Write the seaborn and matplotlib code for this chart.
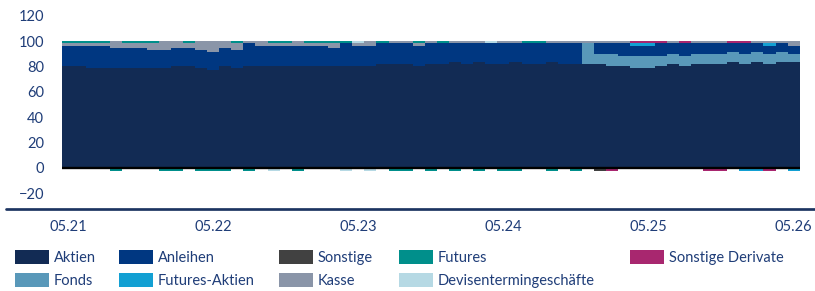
import numpy as np
import matplotlib
matplotlib.use("Agg")
import matplotlib.pyplot as plt
import matplotlib.patches as mpatches
from matplotlib.lines import Line2D
import seaborn as sns

# ---------------- data (monthly, 05.21 .. 05.26) ----------------
months = [f"{y}-{m:02d}" for y in range(2021, 2027) for m in range(1, 13)
          if (y, m) >= (2021, 5) and (y, m) <= (2026, 5)]
tick_labels = ["05.21", "05.22", "05.23", "05.24", "05.25", "05.26"]

aktien = [80.5, 80.5, 78.7, 78.7, 78.7, 78.7, 78.7, 78.7, 78.7, 80.5,
          80.5, 78.7, 77.4, 80.5, 78.7, 80.5, 80.5, 80.5, 80.5, 80.5,
          80.5, 80.5, 80.5, 80.5, 80.5, 80.5, 82.1, 82.1, 82.1, 80.5,
          82.1, 82.1, 83.7, 82.1, 83.7, 82.1, 82.1, 83.7, 82.1, 82.1,
          83.7, 82.1, 82.1, 82.1, 82.1, 80.5, 80.5, 78.9, 78.9, 80.5,
          82.1, 80.5, 82.1, 82.1, 82.1, 83.7, 82.1, 83.7, 82.1, 83.7,
          83.7]
fonds = [0, 0, 0, 0, 0, 0, 0, 0, 0, 0,
         0, 0, 0, 0, 0, 0, 0, 0, 0, 0,
         0, 0, 0, 0, 0, 0, 0, 0, 0, 0,
         0, 0, 0, 0, 0, 0, 0, 0, 0, 0,
         0, 0, 0, 16.3, 7.9, 9.5, 7.9, 9.5, 9.5, 7.9,
         7.9, 7.9, 7.9, 7.9, 7.9, 7.9, 7.9, 7.9, 7.9, 7.9,
         6.1]
anleihen = [15.8, 15.8, 17.6, 17.6, 16.0, 16.0, 16.0, 14.2, 14.2, 14.2,
            14.2, 14.2, 13.9, 14.2, 14.2, 18.2, 15.8, 15.8, 15.8, 15.8,
            15.8, 15.8, 14.2, 18.2, 15.8, 15.8, 16.6, 16.6, 16.6, 15.8,
            16.6, 16.6, 15.0, 16.6, 15.0, 16.6, 16.6, 15.0, 16.6, 16.6,
            15.0, 16.6, 16.6, 0.0, 8.4, 8.4, 10.0, 7.9, 7.9, 10.0,
            8.4, 10.0, 8.4, 8.4, 8.4, 6.8, 8.4, 6.8, 6.3, 6.8,
            6.5]
futures_aktien = [0, 0, 0, 0, 0, 0, 0, 0, 0, 0,
                  0, 0, 0, 0, 0, 0, 0, 0, 0, 0,
                  0, 0, 0, 0, 0, 0, 0, 0, 0, 0,
                  0, 0, 0, 0, 0, 0, 0, 0, 0, 0,
                  0, 0, 0, 0, 0, 0, 0, 2.1, 2.1, 0,
                  0, 0, 0, 0, 0, 0, -2.4, -2.4, 2.1, 0,
                  -2.4]
kasse = [2.4, 2.4, 2.4, 2.4, 5.3, 4.0, 4.0, 5.8, 7.1, 5.3,
         4.0, 7.1, 8.7, 5.3, 5.8, 1.3, 3.7, 2.4, 2.4, 3.7,
         2.4, 2.4, 4.0, 0.0, 2.4, 3.7, 0.0, 1.3, 1.3, 2.4,
         1.3, 0.0, 1.3, 1.3, 1.3, 0.0, 1.3, 1.3, 0.0, 0.0,
         1.3, 1.3, 1.3, 1.6, 1.6, 1.6, 1.6, 0.0, 0.0, 0.0,
         1.6, 0.0, 1.6, 1.6, 1.6, 0.0, 0.0, 1.6, 1.6, 1.6,
         3.7]
sonstige = [0, 0, 0, 0, 0, 0, 0, 0, 0, 0,
            0, 0, 0, 0, 0, 0, 0, 0, 0, 0,
            0, 0, 0, 0, 0, 0, 0, 0, 0, 0,
            0, 0, 0, 0, 0, 0, 0, 0, 0, 0,
            0, 0, 0, 0, -2.4, 0, 0, 0, 0, 0,
            0, 0, 0, 0, 0, 0, 0, 0, 0, 0,
            0]
devisen = [0, 0, 0, 0, 0, 0, 0, 0, 0, 0,
           0, 0, 0, 0, 0, 0, 0, -2.4, 0, 0,
           0, 0, 0, -2.4, 1.3, -2.4, 0, 0, 0, 0,
           0, 0, 0, 0, 0, 1.3, 0, 0, 0, 0,
           0, 0, 0, 0, 0, 0, 0, 0, 0, 0,
           0, 0, 0, 0, 0, 0, 0, 0, 0, 0,
           0]
futures = [1.3, 1.3, 1.3, 1.3, -2.4, 1.3, 1.3, 1.3, -2.4, -2.4,
           1.3, -2.4, -2.4, -2.4, 1.3, -2.4, 0, 1.3, 1.3, -2.4,
           1.3, 1.3, 1.3, 1.3, 0, 0, 1.3, -2.4, -2.4, 1.3,
           -2.4, 1.3, -2.4, 0, -2.4, 0, -2.4, -2.4, 1.3, 1.3,
           -2.4, 0, -2.4, 0, 0, 0, 0, 0, 0, 0,
           0, 0, 0, 0, 0, 0, 0, 0, 0, 0,
           0]
sonst_derivate = [0, 0, 0, 0, 0, 0, 0, 0, 0, 0,
                  0, 0, 0, 0, 0, 0, 0, 0, 0, 0,
                  0, 0, 0, 0, 0, 0, 0, 0, 0, 0,
                  0, 0, 0, 0, 0, 0, 0, 0, 0, 0,
                  0, 0, 0, 0, 0, -2.4, 0, 1.6, 1.6, 1.6,
                  0, 1.6, 0, -2.4, -2.4, 1.6, 1.6, 0, -2.4, 0,
                  0]

# stacking order (bottom -> top)
stack = [
    ("Aktien", aktien, "#122b54"),
    ("Fonds", fonds, "#5998b9"),
    ("Anleihen", anleihen, "#003781"),
    ("Futures-Aktien", futures_aktien, "#13a0d3"),
    ("Kasse", kasse, "#8a95a8"),
    ("Sonstige", sonstige, "#414141"),
    ("Devisentermingeschäfte", devisen, "#b6d9e4"),
    ("Futures", futures, "#008f8b"),
    ("Sonstige Derivate", sonst_derivate, "#a8276f"),
]
colors = {name: c for name, _, c in stack}
legend_columns = [["Aktien", "Fonds"], ["Anleihen", "Futures-Aktien"],
                  ["Sonstige", "Kasse"], ["Futures", "Devisentermingeschäfte"],
                  ["Sonstige Derivate"]]

# ---------------- style ----------------
sns.set_theme(style="white")
plt.rcParams["font.family"] = ["Lato", "DejaVu Sans"]
text_color = "#1f3d78"

W, H = 815, 291
fig = plt.figure(figsize=(W / 100, H / 100), dpi=100)
ax = fig.add_axes([62 / W, 0.2821, 737.7 / W, 0.9766 - 0.2821])

pos = np.zeros(len(months))
neg = np.zeros(len(months))
for name, vals, col in stack:
    v = np.asarray(vals, dtype=float)
    bottom = np.where(v >= 0, pos, neg)
    sns.barplot(x=months, y=v, order=months, bottom=bottom, color=col,
                saturation=1, width=1.0, errorbar=None, linewidth=0,
                antialiased=False, ax=ax)
    pos = pos + np.clip(v, 0, None)
    neg = neg + np.clip(v, None, 0)

ax.axhline(0, color="black", lw=1.7, zorder=5)

ax.set_xlim(-0.5, len(months) - 0.5)
ax.set_ylim(-32.5, 127)
ax.set_yticks([-20, 0, 20, 40, 60, 80, 100, 120])
ax.set_xticks([0, 12, 24, 36, 48, 60])
ax.set_xticklabels(tick_labels)
ax.set_xlabel("")
ax.set_ylabel("")
for s in ax.spines.values():
    s.set_visible(False)
ax.tick_params(axis="y", length=0, pad=13, labelsize=10.5, labelcolor=text_color)
ax.tick_params(axis="x", length=0, pad=8, labelsize=10.5, labelcolor=text_color)
ax.grid(False)

# bottom rule
fig.add_artist(Line2D([6 / W, 1.0], [0.2828, 0.2828], transform=fig.transFigure,
                      color="#1c3461", lw=1.95))

# legend: one column per legend, placed at the reference x positions
col_x = [15, 119, 279, 399, 630]
for xpx, names in zip(col_x, legend_columns):
    handles = [mpatches.Patch(facecolor=colors[n], edgecolor="none") for n in names]
    leg = fig.legend(handles, names, ncol=1, loc="upper left",
                     bbox_to_anchor=(xpx / W, (H - 250) / H),
                     bbox_transform=fig.transFigure,
                     frameon=False, borderpad=0, borderaxespad=0,
                     handlelength=2.33, handleheight=1.1, handletextpad=0.34,
                     labelspacing=0.55, fontsize=10.5, labelcolor=text_color)

fig.savefig("out.png", dpi=100)
